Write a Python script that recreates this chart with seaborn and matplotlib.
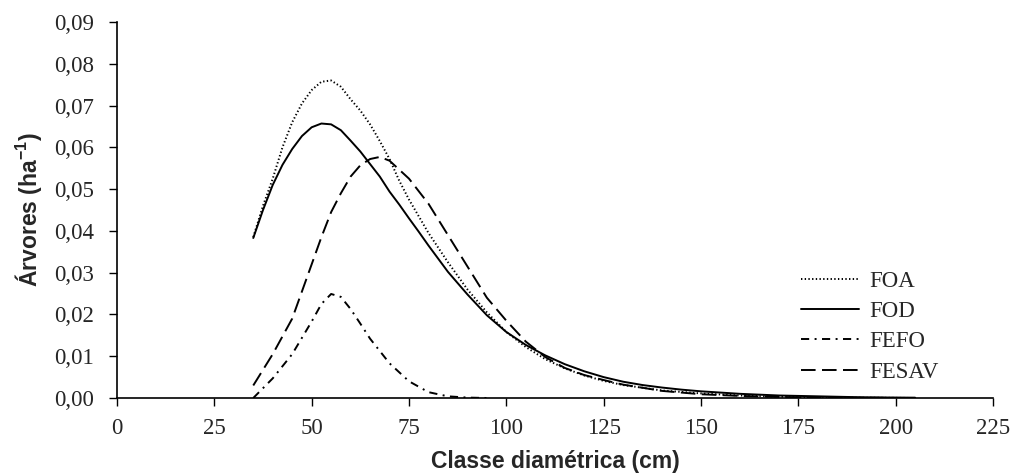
import numpy as np
import pandas as pd
import seaborn as sns
import matplotlib.pyplot as plt
from matplotlib.ticker import FuncFormatter, MultipleLocator

# diameter class (cm) / trees per ha
foa_x = [35, 37.5, 40, 42.5, 45, 47.5, 50, 52.5, 55, 57.5, 60, 62.5, 65, 67.5, 70, 72.5,
         75, 80, 85, 90, 95, 100, 105, 110, 115, 120, 125, 130, 140, 150, 160, 170,
         180, 190, 200, 205]
foa_y = [0.0385, 0.046, 0.0525, 0.060, 0.066, 0.0705, 0.0737, 0.0757, 0.0760, 0.0745,
         0.0715, 0.0688, 0.0655, 0.0615, 0.0572, 0.052, 0.0475, 0.0395, 0.0325, 0.026,
         0.0205, 0.0158, 0.0122, 0.0093, 0.0071, 0.0054, 0.0041, 0.0031, 0.0018, 0.0011,
         0.0006, 0.0003, 0.00015, 0.00007, 0.00003, 0.0]

fod_x = [35, 37.5, 40, 42.5, 45, 47.5, 50, 52.5, 55, 57.5, 60, 62.5, 65, 67.5, 70, 72.5,
         75, 77.5, 80, 85, 90, 95, 100, 105, 110, 115, 120, 125, 130, 135, 140, 145, 150,
         160, 170, 180, 190, 200, 205]
fod_y = [0.0383, 0.045, 0.051, 0.0558, 0.0596, 0.0627, 0.0648, 0.0657, 0.0655, 0.0641,
         0.0616, 0.059, 0.056, 0.053, 0.0494, 0.0463, 0.043, 0.0398, 0.0365, 0.0302,
         0.0248, 0.0198, 0.0158, 0.0127, 0.0102, 0.0081, 0.0064, 0.0050, 0.0039, 0.0031,
         0.0025, 0.0020, 0.0016, 0.0010, 0.0006, 0.0004, 0.0002, 0.0001, 0.00008]

fefo_x = [35, 40, 45, 50, 52.5, 55, 57.5, 60, 62.5, 65, 70, 75, 80, 85, 90, 95]
fefo_y = [0.0, 0.0047, 0.0105, 0.0183, 0.0225, 0.0249, 0.0242, 0.0213, 0.0178, 0.0142,
          0.0083, 0.0040, 0.0014, 0.0004, 0.0001, 0.0]

fesav_x = [35, 40, 45, 50, 52.5, 55, 57.5, 60, 62.5, 65, 67.5, 70, 75, 80, 85, 90, 95,
           100, 105, 110, 115, 120, 125, 130, 140, 150, 160, 170, 180, 190, 200, 205]
fesav_y = [0.003, 0.0105, 0.019, 0.032, 0.0385, 0.0445, 0.049, 0.053, 0.0557, 0.0572,
           0.0577, 0.0568, 0.0525, 0.0465, 0.039, 0.0315, 0.0240, 0.0185, 0.0135, 0.0098,
           0.0072, 0.0055, 0.0043, 0.0032, 0.0017, 0.0009, 0.0005, 0.00025, 0.0001,
           0.00005, 0.00002, 0.0]

series = ['FOA', 'FOD', 'FEFO', 'FESAV']


def main():
    df = pd.concat([
        pd.DataFrame({'x': foa_x, 'y': foa_y, 'tipo': 'FOA'}),
        pd.DataFrame({'x': fod_x, 'y': fod_y, 'tipo': 'FOD'}),
        pd.DataFrame({'x': fefo_x, 'y': fefo_y, 'tipo': 'FEFO'}),
        pd.DataFrame({'x': fesav_x, 'y': fesav_y, 'tipo': 'FESAV'}),
    ])

    sns.set_style('ticks')
    plt.rcParams['font.family'] = ['Liberation Serif', 'DejaVu Serif']
    plt.rcParams['mathtext.fontset'] = 'custom'
    plt.rcParams['mathtext.bf'] = 'Liberation Sans:bold'
    plt.rcParams['mathtext.rm'] = 'Liberation Sans:bold'

    fig = plt.figure(figsize=(10.15, 4.73), dpi=100)
    ax = fig.add_axes([117 / 1015, 1 - 398 / 473, 876 / 1015, 376 / 473])

    dashes = {'FOA': (0.7, 1.2), 'FOD': '', 'FEFO': (4.2, 2.8, 1.0, 2.8), 'FESAV': (7.5, 3.3)}
    palette = {s: 'black' for s in series}
    sns.lineplot(data=df, x='x', y='y', hue='tipo', style='tipo', hue_order=series,
                 style_order=series, dashes=dashes, palette=palette, linewidth=1.4,
                 sort=False, ax=ax)

    ax.set_xlim(0, 225)
    ax.set_ylim(0, 0.09)
    ax.xaxis.set_major_locator(MultipleLocator(25))
    ax.yaxis.set_major_locator(MultipleLocator(0.01))
    ax.yaxis.set_major_formatter(FuncFormatter(lambda v, p: f'{v:.2f}'.replace('.', ',')))
    ax.tick_params(labelsize=16.5, length=5.5, width=1, color='black', direction='out',
                   pad=9)
    ax.tick_params(axis='y', pad=11)
    for s in ['left', 'bottom']:
        ax.spines[s].set_linewidth(1.2)
        ax.spines[s].set_color('black')
    sns.despine(ax=ax)

    ax.set_xlabel('Classe diamétrica (cm)', fontsize=16.5, fontweight='bold',
                  family='Liberation Sans', labelpad=8)
    ax.set_ylabel(r'Árvores (ha$^{-1}$)', fontsize=16.5, fontweight='bold',
                  family='Liberation Sans', labelpad=7)

    leg = ax.legend(frameon=False, fontsize=16.5, handlelength=2.55, handletextpad=0.42,
                    labelspacing=0.4, borderpad=0, borderaxespad=0, loc='upper left',
                    bbox_transform=fig.transFigure,
                    bbox_to_anchor=(801 / 1015, 1 - 271 / 473))
    for line in leg.get_lines():
        line.set_linewidth(1.4)

    fig.savefig('out.png', dpi=100)


main()
